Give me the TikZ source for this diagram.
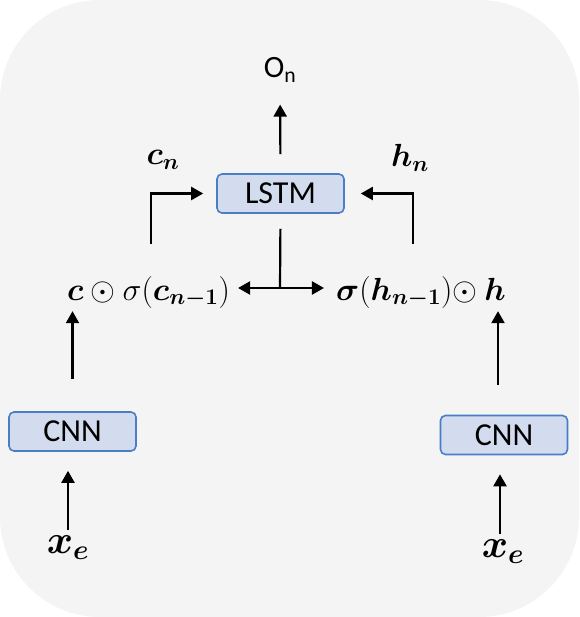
\RequirePackage{fix-cm}
\documentclass[tikz,border=0pt]{standalone}
\usepackage{amsmath,amssymb,bm}
\usepackage{fontspec}
\newfontfamily\carlito{Carlito}
\usepackage{tikz}
\usetikzlibrary{arrows.meta, positioning}
\definecolor{panelgray}{HTML}{F4F4F4}
\definecolor{boxfill}{HTML}{D2DCEE}
\definecolor{boxline}{HTML}{4A7EC4}

\begin{document}
\begin{tikzpicture}[
    x=1pt, y=-1pt,
    netbox/.style={rectangle, rounded corners=5pt, draw=boxline, line width=1.6pt, fill=boxfill, minimum width=127pt, minimum height=39pt, inner sep=0pt, font=\carlito\fontsize{32}{36}\selectfont},
    sanslbl/.style={inner sep=0pt, font=\carlito\fontsize{31}{36}\selectfont},
    mathlbl/.style={inner sep=0pt, font=\fontsize{32}{38}\selectfont},
    biglbl/.style={inner sep=0pt, font=\fontsize{40}{46}\selectfont},
    arrow/.style={-{Triangle[length=12pt,width=13pt]}, line width=2.2pt},
    link/.style={line width=2.2pt}
]

% Panel
\fill[panelgray, rounded corners=100pt] (0,0) rectangle (579,617);
\useasboundingbox (0,0) rectangle (579,617);

% LSTM and output
\node[netbox] (lstm) at (280.5,193.5) {LSTM};
\node[sanslbl] (out) at (280,70) {O\textsubscript{n}};
\node[mathlbl] (cn) at (163,160) {$\bm{c_n}$};
\node[mathlbl] (hn) at (410,158) {$\bm{h_n}$};

% Gated states
\node[mathlbl] (cgate) at (148.5,292) {$\bm{c}\odot\sigma(\bm{c_{n-1}})$};
\node[mathlbl] (hgate) at (421,292) {$\bm{\sigma}(\bm{h_{n-1}})\mkern-4mu\odot\bm{h}$};
\coordinate (split) at (280,288);

% CNN branches
\node[netbox] (cnnl) at (72.5,431.5) {CNN};
\node[netbox] (cnnr) at (504,435) {CNN};
\node[biglbl] (xl) at (68,548) {$\bm{x_e}$};
\node[biglbl] (xr) at (503,552) {$\bm{x_e}$};

% Arrows
\draw[arrow, shorten <=19pt, shorten >=22pt] (lstm.north) -- (out.south);
\draw[arrow, shorten <=32pt, shorten >=13pt] ([xshift=2.5pt]cgate.north) |- (lstm.west);
\draw[arrow, shorten <=32pt, shorten >=16pt] ([xshift=-8pt]hgate.north) |- (lstm.east);
\draw[link, shorten <=15pt] (lstm.south) -- (split);
\draw[arrow, shorten >=8pt] (split) -- (split -| cgate.east);
\draw[arrow, shorten >=12pt] (split) -- (split -| hgate.west);
\draw[arrow, shorten <=32pt, shorten >=3pt] (cnnl.north) -- (cnnl.north |- cgate.south);
\draw[arrow, shorten <=30pt, shorten >=3pt] ([xshift=-6pt]cnnr.north) -- ([xshift=-6pt]cnnr.north |- hgate.south);
\draw[arrow, shorten <=6pt, shorten >=19pt] (xl.north) -- (xl.north |- cnnl.south);
\draw[arrow, shorten <=6pt, shorten >=19pt] ([xshift=-3pt]xr.north) -- ([xshift=-3pt]xr.north |- cnnr.south);

\end{tikzpicture}
\end{document}
